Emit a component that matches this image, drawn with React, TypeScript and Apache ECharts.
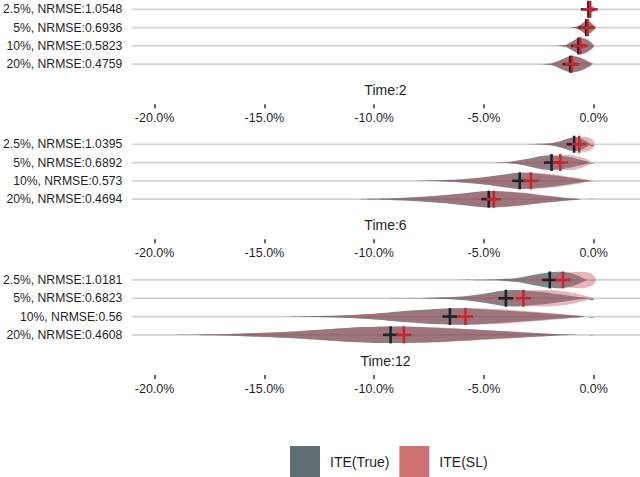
import { useEffect, useRef } from 'react';
import * as echarts from 'echarts';

// facet titles and row labels
const panelTitles = ['Time:2', 'Time:6', 'Time:12'];
const rowsT2 = ['2.5%, NRMSE:1.0548', '5%, NRMSE:0.6936', '10%, NRMSE:0.5823', '20%, NRMSE:0.4759'];
const rowsT6 = ['2.5%, NRMSE:1.0395', '5%, NRMSE:0.6892', '10%, NRMSE:0.573', '20%, NRMSE:0.4694'];
const rowsT12 = ['2.5%, NRMSE:1.0181', '5%, NRMSE:0.6823', '10%, NRMSE:0.56', '20%, NRMSE:0.4608'];
const xTicks = [-20, -15, -10, -5, 0];

// means (cross markers), in %
const trueMeanT2 = [-0.24, -0.34, -0.69, -1.07];
const slMeanT2 = [-0.16, -0.27, -0.61, -0.99];
const trueMeanT6 = [-0.89, -1.92, -3.37, -4.78];
const slMeanT6 = [-0.66, -1.52, -2.86, -4.55];
const trueMeanT12 = [-2.0, -4.0, -6.55, -9.25];
const slMeanT12 = [-1.4, -3.2, -5.84, -8.65];

// violin profiles: [value %, relative density]
const trueViolinT2 = [
  [[-0.55, 0], [-0.35, 0.15], [-0.2, 0.35], [-0.05, 0.3], [0.05, 0]],
  [[-1.1, 0], [-0.8, 0.1], [-0.55, 0.45], [-0.35, 0.8], [-0.15, 0.6], [0.05, 0]],
  [[-1.65, 0], [-1.3, 0.1], [-1.0, 0.5], [-0.7, 0.95], [-0.4, 0.85], [-0.15, 0.45], [0, 0]],
  [[-2.4, 0], [-1.9, 0.12], [-1.5, 0.55], [-1.1, 0.95], [-0.7, 0.85], [-0.35, 0.45], [-0.1, 0]],
];
const slViolinT2 = [
  [[-0.5, 0], [-0.3, 0.15], [-0.15, 0.35], [0, 0.3], [0.08, 0]],
  [[-1.1, 0], [-0.8, 0.08], [-0.5, 0.4], [-0.3, 0.75], [-0.1, 0.65], [0.08, 0]],
  [[-1.6, 0], [-1.3, 0.1], [-1.0, 0.45], [-0.65, 0.95], [-0.35, 0.9], [-0.1, 0.45], [0.02, 0]],
  [[-2.4, 0], [-1.9, 0.1], [-1.5, 0.5], [-1.05, 0.95], [-0.65, 0.85], [-0.3, 0.45], [-0.05, 0]],
];
const trueViolinT6 = [
  [[-2.9, 0], [-2.0, 0.12], [-1.5, 0.4], [-1.1, 0.75], [-0.8, 0.85], [-0.5, 0.6], [-0.25, 0.2], [-0.15, 0]],
  [[-4.6, 0], [-3.8, 0.1], [-3.0, 0.45], [-2.4, 0.8], [-1.9, 0.9], [-1.3, 0.75], [-0.7, 0.4], [-0.2, 0]],
  [[-8.1, 0], [-6.5, 0.12], [-5, 0.45], [-4, 0.8], [-3.3, 1.0], [-2.5, 0.85], [-1.5, 0.55], [-0.6, 0.2], [-0.15, 0]],
  [[-10.7, 0], [-9, 0.12], [-7.5, 0.35], [-6, 0.7], [-4.8, 1.0], [-3.5, 0.8], [-2.3, 0.45], [-1.2, 0.15], [-0.6, 0]],
];
const slViolinT6 = [
  [[-3.0, 0], [-2.0, 0.08], [-1.5, 0.3], [-1.0, 0.65], [-0.6, 0.88], [-0.3, 0.88], [-0.05, 0.55], [0.05, 0]],
  [[-4.6, 0], [-3.8, 0.07], [-3.0, 0.3], [-2.3, 0.6], [-1.6, 0.85], [-1.0, 0.9], [-0.5, 0.6], [-0.1, 0]],
  [[-8.1, 0], [-6.5, 0.1], [-5, 0.4], [-4, 0.72], [-3, 0.97], [-2.2, 0.9], [-1.3, 0.6], [-0.5, 0.25], [-0.1, 0]],
  [[-10.7, 0], [-9, 0.1], [-7.5, 0.3], [-6, 0.65], [-4.5, 1.0], [-3.3, 0.8], [-2.2, 0.45], [-1.2, 0.15], [-0.6, 0]],
];
const trueViolinT12 = [
  [[-6.1, 0], [-4.6, 0.05], [-3.5, 0.25], [-2.6, 0.7], [-2.0, 0.95], [-1.5, 1.0], [-1.0, 0.8], [-0.5, 0.25], [-0.3, 0]],
  [[-9.3, 0], [-7.5, 0.05], [-6, 0.2], [-5, 0.55], [-4.2, 0.9], [-3.5, 1.0], [-2.5, 0.8], [-1.5, 0.45], [-0.7, 0.15], [-0.2, 0]],
  [[-14.2, 0], [-12, 0.1], [-10, 0.35], [-8.5, 0.7], [-7, 0.95], [-6, 1.0], [-4.5, 0.8], [-3, 0.55], [-1.5, 0.25], [-0.4, 0]],
  [[-19.2, 0], [-17.5, 0.06], [-16, 0.16], [-13.5, 0.45], [-11.5, 0.8], [-9.5, 1.0], [-7.5, 0.9], [-5.5, 0.65], [-3.5, 0.35], [-1.8, 0.1], [-0.8, 0]],
];
const slViolinT12 = [
  [[-6.1, 0], [-4.5, 0.03], [-3.3, 0.15], [-2.3, 0.45], [-1.6, 0.75], [-1.0, 0.95], [-0.5, 1.0], [-0.15, 0.8], [0.05, 0.4], [0.1, 0]],
  [[-9.3, 0], [-7.5, 0.04], [-6, 0.15], [-5, 0.4], [-4, 0.75], [-3, 0.95], [-2, 1.0], [-1, 0.7], [-0.3, 0.25], [0, 0]],
  [[-14.2, 0], [-12, 0.08], [-10, 0.3], [-8.5, 0.6], [-7, 0.9], [-5.5, 1.0], [-4, 0.85], [-2.5, 0.55], [-1.2, 0.25], [-0.5, 0]],
  [[-19.2, 0], [-17.5, 0.05], [-16, 0.14], [-13.5, 0.4], [-11.5, 0.75], [-9, 1.0], [-7, 0.9], [-5, 0.6], [-3, 0.3], [-1.6, 0]],
];

const panels = [
  { title: panelTitles[0], rows: rowsT2, trueMean: trueMeanT2, slMean: slMeanT2, trueViolin: trueViolinT2, slViolin: slViolinT2 },
  { title: panelTitles[1], rows: rowsT6, trueMean: trueMeanT6, slMean: slMeanT6, trueViolin: trueViolinT6, slViolin: slViolinT6 },
  { title: panelTitles[2], rows: rowsT12, trueMean: trueMeanT12, slMean: slMeanT12, trueViolin: trueViolinT12, slViolin: slViolinT12 },
];

const FONT = 'Liberation Sans, Arial, sans-serif';
const TEXT = '#1f1f1f';
const TRUE_FILL = 'rgba(24, 50, 58, 0.58)';
const SL_FILL = 'rgba(200, 96, 102, 0.46)';
const TRUE_CROSS = '#17262c';
const SL_CROSS = '#c9252c';
const gridTops = [0.15, 135.1, 270.8];
const ROW_H = 73.2;

const violinItem = (profiles: number[][][], fill: string) => (_params: any, api: any) => {
  const row = api.value(1);
  const prof = profiles[row];
  const half = api.size([0, 1])[1] * 0.45;
  const top = prof.map(([v, d]) => {
    const p = api.coord([v, row]);
    return [p[0], p[1] - d * half];
  });
  const bottom = prof.slice(1, -1).reverse().map(([v, d]) => {
    const p = api.coord([v, row]);
    return [p[0], p[1] + d * half];
  });
  return {
    type: 'polygon',
    shape: { points: top.concat(bottom), smooth: 0.3 },
    style: { fill },
    silent: true,
  };
};

const crossItem = (color: string) => (_params: any, api: any) => {
  const p = api.coord([api.value(0), api.value(1)]);
  return {
    type: 'group',
    children: [
      { type: 'line', shape: { x1: p[0] - 7.5, y1: p[1], x2: p[0] + 7.5, y2: p[1] }, style: { stroke: color, lineWidth: 2.6 } },
      { type: 'line', shape: { x1: p[0], y1: p[1] - 8.5, x2: p[0], y2: p[1] + 8.5 }, style: { stroke: color, lineWidth: 2.6 } },
    ],
  };
};

const gridLineItem = (params: any, api: any) => {
  const y = api.coord([0, api.value(1)])[1];
  const cs = params.coordSys;
  return {
    type: 'line',
    shape: { x1: cs.x, y1: y, x2: cs.x + cs.width, y2: y },
    style: { stroke: '#d2d2d2', lineWidth: 1.7 },
    silent: true,
  };
};

export default function App() {
  const chartRef = useRef<HTMLDivElement>(null);

  useEffect(() => {
    if (!chartRef.current) return;
    const chart = echarts.init(chartRef.current, undefined, { renderer: 'svg' });

    const series: any[] = [];
    panels.forEach((pn, i) => {
      const rowData = pn.rows.map((_, r) => [0, r]);
      const base = { type: 'custom', xAxisIndex: i, yAxisIndex: i, encode: { x: 0, y: 1 }, silent: true };
      series.push({ ...base, name: 'grid' + i, data: rowData, renderItem: gridLineItem });
      series.push({ ...base, name: 'ITE(True)', data: rowData, renderItem: violinItem(pn.trueViolin, TRUE_FILL) });
      series.push({ ...base, name: 'ITE(SL)', data: rowData, renderItem: violinItem(pn.slViolin, SL_FILL) });
      series.push({ ...base, name: 'meanTrue' + i, data: pn.trueMean.map((m, r) => [m, r]), renderItem: crossItem(TRUE_CROSS) });
      series.push({ ...base, name: 'meanSL' + i, data: pn.slMean.map((m, r) => [m, r]), renderItem: crossItem(SL_CROSS) });
    });

    chart.setOption({
      animation: false,
      backgroundColor: '#ffffff',
      textStyle: { fontFamily: FONT },
      grid: gridTops.map((t) => ({ left: 131, right: 0, top: t, height: ROW_H })),
      xAxis: panels.map((_, i) => ({
        gridIndex: i,
        type: 'value',
        min: -21.02,
        max: 2.11,
        position: 'bottom',
        offset: 31,
        axisLine: { show: false },
        axisTick: { show: true, length: 4, customValues: xTicks, lineStyle: { color: '#333', width: 1.5 } },
        axisLabel: {
          customValues: xTicks,
          margin: 7,
          fontSize: 12.5,
          color: TEXT,
          fontFamily: FONT,
          formatter: (v: number) => v.toFixed(1) + '%',
        },
        splitLine: { show: false },
      })),
      yAxis: panels.map((pn, i) => ({
        gridIndex: i,
        type: 'category',
        data: pn.rows,
        inverse: true,
        axisLine: { show: false },
        axisTick: { show: true, alignWithLabel: true, length: 4, lineStyle: { color: '#333', width: 1.5 } },
        axisLabel: { margin: 10, fontSize: 12.2, color: TEXT, fontFamily: FONT },
        splitLine: { show: false },
      })),
      graphic: panels.map((pn, i) => ({
        type: 'text',
        x: 385.5,
        y: gridTops[i] + ROW_H + 16.5,
        silent: true,
        style: {
          text: pn.title,
          align: 'center',
          verticalAlign: 'middle',
          fontSize: 14,
          fontFamily: FONT,
          fill: TEXT,
        },
      })),
      legend: {
        left: 290,
        top: 446,
        padding: 0,
        itemWidth: 30,
        itemHeight: 31,
        itemGap: 10,
        icon: 'rect',
        selectedMode: false,
        textStyle: { fontSize: 14, color: TEXT, fontFamily: FONT, padding: [0, 0, 0, 5] },
        data: [
          { name: 'ITE(True)', itemStyle: { color: '#5f6e72' } },
          { name: 'ITE(SL)', itemStyle: { color: '#cc7171' } },
        ],
      },
      series,
    });

    return () => chart.dispose();
  }, []);

  return <div ref={chartRef} style={{ position: 'fixed', left: 0, top: 0, width: 640, height: 477 }} />;
}
